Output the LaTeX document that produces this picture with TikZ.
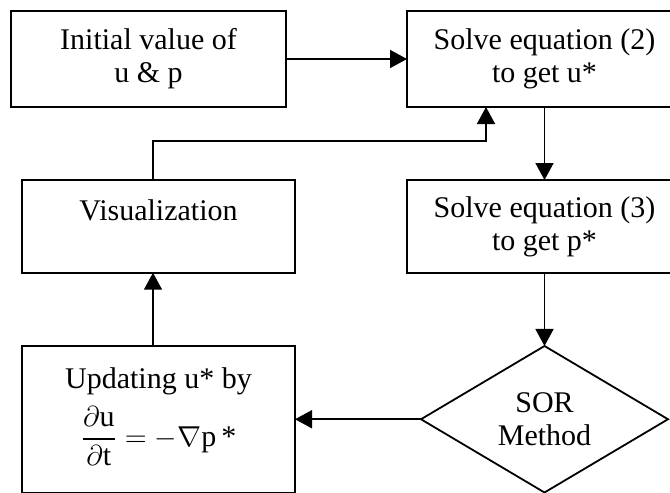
\documentclass[tikz,border=0pt]{standalone}
\usepackage{amsmath}
\usepackage{fontspec}
\setmainfont{Liberation Serif}
\usetikzlibrary{arrows.meta,positioning,shapes.geometric}

\begin{document}
\begin{tikzpicture}[
  font=\fontsize{15}{16.5}\selectfont,
  node distance=36.5pt and 60.5pt,
  box/.style={
    draw=black,
    line width=1pt,
    align=center,
    outer sep=0pt,
    inner sep=2pt
  },
  wide/.style={box, minimum width=137.5pt},
  left box/.style={box, minimum width=136.5pt},
  decide/.style={
    draw=black,
    line width=0.9pt,
    diamond,
    align=center,
    outer sep=0pt,
    inner sep=0pt,
    minimum width=123.5pt,
    minimum height=73pt
  },
  arrow/.style={-{Triangle[length=8.5pt,width=9pt]}, line width=0.8pt, draw=black}
]

\useasboundingbox (0,0) rectangle (335pt,-246.5pt);
\clip (0,0) rectangle (335pt,-246.5pt);

\node[wide, minimum height=48pt, anchor=north west] (init) at (5.5pt,-5.5pt) {Initial value of\\u \& p};
\node[wide, minimum height=48pt, right=of init] (solveu) {Solve equation (2)\\to get u*};
\node[wide, minimum height=46.5pt, below=of solveu] (solvep) {Solve equation (3)\\to get p*};
\node[decide, below=of solvep] (sor) {SOR\\Method};
\node[left box, minimum height=73.5pt, left=63pt of sor] (update) {Updating u* by\\[5pt]
  $\dfrac{\partial\text{u}}{\partial\text{t}}=-\nabla\text{p\,*}$\\[-4pt]};
\node[left box, minimum height=46.5pt, above=of update] (vis) {Visualization\\~};

\draw[arrow] (init) -- (solveu);
\draw[arrow] (solveu) -- (solvep);
\draw[arrow] (solvep) -- (sor);
\draw[arrow] (sor) -- (update);
\draw[arrow] ([xshift=65.5pt]update.north west) -- ([xshift=65.5pt]vis.south west);
\draw[arrow] ([xshift=65.5pt]vis.north west) |- ([xshift=39.5pt,yshift=-17pt]solveu.south west)
  -- ([xshift=39.5pt]solveu.south west);

\end{tikzpicture}
\end{document}
